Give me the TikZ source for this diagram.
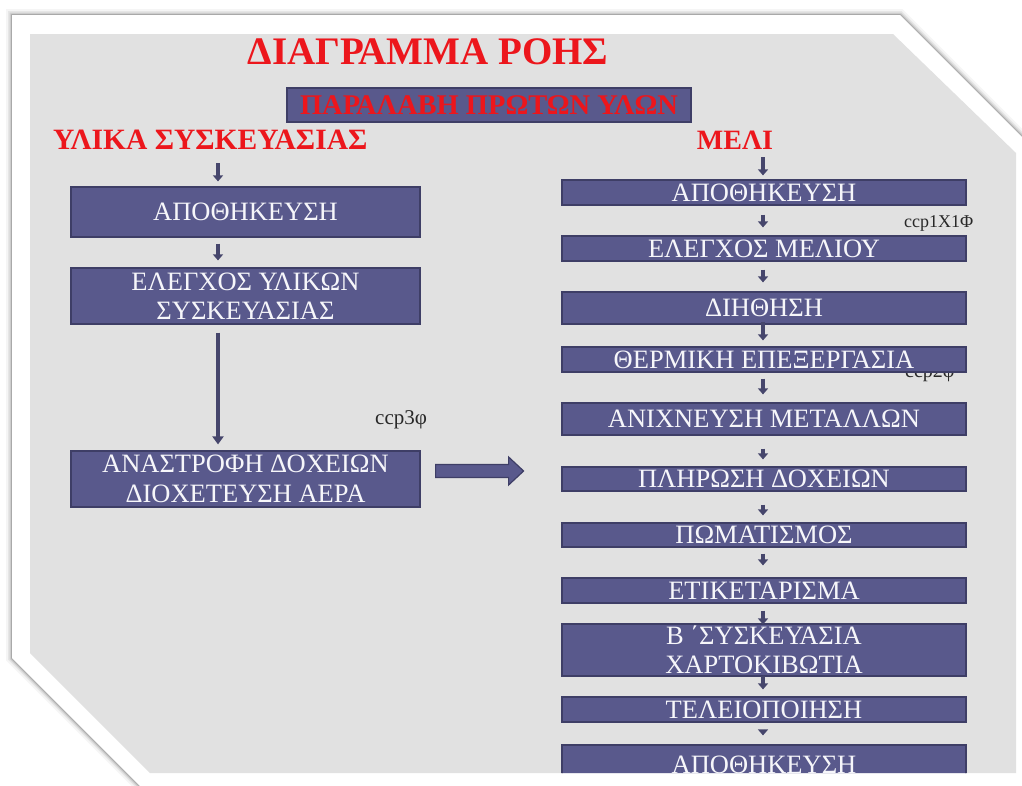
\documentclass[tikz,border=0pt]{standalone}
\usepackage{fontspec}
\setmainfont{Liberation Serif}
\usetikzlibrary{arrows.meta,calc}
\definecolor{boxfill}{RGB}{89,89,140}
\definecolor{boxline}{RGB}{62,62,102}
\definecolor{boxtext}{RGB}{246,246,250}
\definecolor{arrowcol}{RGB}{70,70,108}
\definecolor{titlered}{RGB}{236,22,28}
\definecolor{panel}{RGB}{225,225,225}
\definecolor{ccpcol}{RGB}{40,40,40}
\begin{document}
\begin{tikzpicture}[x=1pt,y=-1pt,
  procbox/.style={draw=boxline, fill=boxfill, line width=1.2pt, text=boxtext, inner sep=0pt, align=center, font=\fontsize{26.5}{29.5}\selectfont},
  lbox/.style={procbox, minimum width=349pt},
  rbox/.style={procbox, minimum width=404pt},
  flow/.style={draw=arrowcol, line width=3.5pt, -{Triangle[width=10pt,length=6pt]}},
  ccp/.style={text=ccpcol, font=\fontsize{20}{20}\selectfont, inner sep=0pt, anchor=base west},
  heading/.style={text=titlered, font=\bfseries\fontsize{29.5}{30}\selectfont, inner sep=0pt, anchor=base}]
\useasboundingbox (0,0) rectangle (1022,785);
\fill[white] (0,0) rectangle (1022,785);
% card with soft shadow
\foreach \w/\o in {12/0.04,8/0.06,5/0.09,2.5/0.13,1/0.18}{
  \draw[black, opacity=\o, line width=\w pt, line join=miter]
    (12,15) -- (900,15) -- (1060,175) -- (1060,820) -- (174,820) -- (12,658) -- cycle;
}
\fill[white] (12,15) -- (900,15) -- (1060,175) -- (1060,820) -- (174,820) -- (12,658) -- cycle;
\fill[panel] (30,34) -- (893,34) -- (1016,153) -- (1016,773) -- (150,773) -- (30,653) -- cycle;
\begin{scope}
\clip (30,34) -- (893,34) -- (1016,153) -- (1016,773) -- (150,773) -- (30,653) -- cycle;
% headings
\node[heading, font=\bfseries\fontsize{39}{40}\selectfont] (title) at (428,64) {ΔΙΑΓΡΑΜΜΑ ΡΟΗΣ};
\node[procbox, minimum width=404pt, minimum height=34pt, text=titlered, font=\bfseries\fontsize{28.5}{29}\selectfont] (recv) at (489,105) {ΠΑΡΑΛΑΒΗ ΠΡΩΤΩΝ ΥΛΩΝ};
\node[heading, anchor=base west] (pack) at (53,149) {ΥΛΙΚΑ ΣΥΣΚΕΥΑΣΙΑΣ};
\node[heading, font=\bfseries\fontsize{28}{30}\selectfont] (honey) at (735,149) {ΜΕΛΙ};
% left column
\node[lbox, minimum height=50pt] (L1) at (245.5,212) {ΑΠΟΘΗΚΕΥΣΗ};
\node[lbox, minimum height=56pt] (L2) at (245.5,296) {ΕΛΕΓΧΟΣ ΥΛΙΚΩΝ\\ΣΥΣΚΕΥΑΣΙΑΣ};
\node[lbox, minimum height=56pt] (L3) at (245.5,479) {ΑΝΑΣΤΡΟΦΗ ΔΟΧΕΙΩΝ\\ΔΙΟΧΕΤΕΥΣΗ ΑΕΡΑ};
\node[ccp, font=\fontsize{21}{21}\selectfont] (c3) at (375,424) {ccp3φ};
% right column
\node[ccp, font=\fontsize{18}{18}\selectfont] (c1) at (904,227) {ccp1X1Φ};
\node[ccp] (c2) at (905,377) {ccp2φ};
\node[rbox, minimum height=25pt] (A) at (764,192.5) {ΑΠΟΘΗΚΕΥΣΗ};
\node[rbox, minimum height=25pt] (B) at (764,248.5) {ΕΛΕΓΧΟΣ ΜΕΛΙΟΥ};
\node[rbox, minimum height=32pt] (C) at (764,308) {ΔΙΗΘΗΣΗ};
\node[rbox, minimum height=25pt] (D) at (764,359.5) {ΘΕΡΜΙΚΗ ΕΠΕΞΕΡΓΑΣΙΑ};
\node[rbox, minimum height=32pt] (E) at (764,419) {ΑΝΙΧΝΕΥΣΗ ΜΕΤΑΛΛΩΝ};
\node[rbox, minimum height=24pt] (F) at (764,479) {ΠΛΗΡΩΣΗ ΔΟΧΕΙΩΝ};
\node[rbox, minimum height=24pt] (G) at (764,535) {ΠΩΜΑΤΙΣΜΟΣ};
\node[rbox, minimum height=25pt] (H) at (764,590.5) {ΕΤΙΚΕΤΑΡΙΣΜΑ};
\node[rbox, minimum height=52pt] (I) at (764,650) {Β ΄ΣΥΣΚΕΥΑΣΙΑ\\ΧΑΡΤΟΚΙΒΩΤΙΑ};
\node[rbox, minimum height=25pt] (J) at (764,709.5) {ΤΕΛΕΙΟΠΟΙΗΣΗ};
\node[rbox, minimum height=40pt] (K) at (764,765) {ΑΠΟΘΗΚΕΥΣΗ};
% connectors left
\coordinate (lx) at (218,0);
\coordinate (rx) at (763,0);
\draw[flow, shorten <=14pt, shorten >=5pt] (pack.south -| lx) -- (L1.north -| lx);
\draw[flow, shorten <=6pt, shorten >=7pt] (L1.south -| lx) -- (L2.north -| lx);
\draw[flow, line width=4pt, -{Triangle[width=11pt,length=8pt]}, shorten <=8pt, shorten >=6pt] (L2.south -| lx) -- (L3.north -| lx);
% block arrow
\coordinate (bs) at ($(L3.east)+(15,-8)$);
\filldraw[fill=boxfill, draw=boxline, line width=1.2pt] (bs) ++(0,-6.5) -- ++(73,0) -- ++(0,-7.5) -- ++(15,14) -- ++(-15,14) -- ++(0,-7.5) -- ++(-73,0) -- cycle;
% connectors right
\draw[flow, shorten <=8pt, shorten >=4pt] (honey.south -| rx) -- (A.north -| rx);
\draw[flow, shorten <=9pt, shorten >=8pt] (A.south -| rx) -- (B.north -| rx);
\draw[flow, shorten <=8pt, shorten >=9pt] (B.south -| rx) -- (C.north -| rx);
\draw[flow, shorten <=-3pt, shorten >=6pt] (C.south -| rx) -- (D.north -| rx);
\draw[flow, shorten <=6pt, shorten >=8pt] (D.south -| rx) -- (E.north -| rx);
\draw[flow, shorten <=13pt, shorten >=7pt] (E.south -| rx) -- (F.north -| rx);
\draw[flow, shorten <=13pt, shorten >=7pt] (F.south -| rx) -- (G.north -| rx);
\draw[flow, shorten <=6pt, shorten >=12pt] (G.south -| rx) -- (H.north -| rx);
\draw[flow, shorten <=7pt, shorten >=-1pt] (H.south -| rx) -- (I.north -| rx);
\draw[flow, shorten <=-1pt, shorten >=7pt] (I.south -| rx) -- (J.north -| rx);
\draw[flow, shorten <=7pt, shorten >=9pt] (J.south -| rx) -- (K.north -| rx);
\end{scope}
\end{tikzpicture}
\end{document}
